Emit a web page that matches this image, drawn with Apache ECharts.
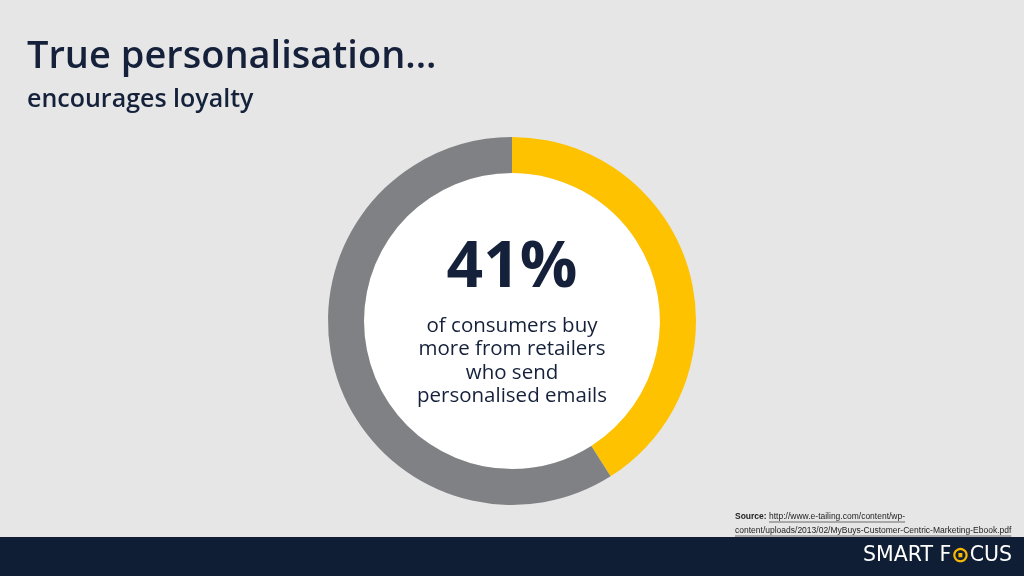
<!DOCTYPE html>
<html><head><meta charset="utf-8">
<script src="https://cdn.jsdelivr.net/npm/echarts@6/dist/echarts.min.js"></script>
<style>html,body{margin:0;padding:0;background:#e6e6e6;}#c{width:1024px;height:576px;}</style>
</head><body><div id="c"></div>
<script>
const categories = ['Buy more', 'Other'];
const values = [41, 59];
const bigLabel = '41%';
const caption = ['of consumers buy', 'more from retailers', 'who send', 'personalised emails'];
const titleText = 'True personalisation...';
const subtitleText = 'encourages loyalty';
const sourceLabel = 'Source: ';
const sourceLines = ['http://www.e-tailing.com/content/wp-', 'content/uploads/2013/02/MyBuys-Customer-Centric-Marketing-Ebook.pdf'];

const chart = echarts.init(document.getElementById('c'));
const navy = '#0f1e35';
const ink = '#15213a';

const ctx = document.createElement('canvas').getContext('2d');
function tw(text, font) { ctx.font = font; return ctx.measureText(text).width; }
const srcFont = '8.5px "Liberation Sans"';
const srcBold = 'bold 8.5px "Liberation Sans"';
const sx = 735, sy1 = 517, sy2 = 531;
const labW = tw(sourceLabel, srcBold);
const l1W = tw(sourceLines[0], srcFont);
const l2W = tw(sourceLines[1], srcFont);

chart.setOption({
  backgroundColor: '#e6e6e6',
  animation: false,
  graphic: [
    { type: 'rect', shape: { x: 0, y: 537, width: 1024, height: 39 }, style: { fill: navy }, z: 0 },
    { type: 'circle', shape: { cx: 512, cy: 321, r: 148 }, style: { fill: '#ffffff' }, z: 0 },
    { type: 'text', left: 27, top: 38, style: { text: titleText, font: '600 38px "Open Sans"', fill: ink } },
    { type: 'text', left: 27, top: 87, style: { text: subtitleText, font: '600 25px "Open Sans"', fill: ink } },
    { type: 'text', x: 512, y: 269, style: { text: bigLabel, font: 'bold 64px "Open Sans"', fill: ink, align: 'center', verticalAlign: 'middle' }, z: 10 },
    { type: 'text', x: 512, y: 361, style: { text: caption.join('\n'), font: '20.5px "Open Sans"', lineHeight: 23.5, fill: ink, align: 'center', verticalAlign: 'middle' }, z: 10 },
    { type: 'text', x: sx, y: sy1, style: { text: sourceLabel, font: srcBold, fill: '#222', verticalAlign: 'middle' } },
    { type: 'text', x: sx + labW, y: sy1, style: { text: sourceLines[0], font: srcFont, fill: '#222', verticalAlign: 'middle' } },
    { type: 'text', x: sx, y: sy2, style: { text: sourceLines[1], font: srcFont, fill: '#222', verticalAlign: 'middle' } },
    { type: 'line', shape: { x1: sx + labW, y1: sy1 + 5, x2: sx + labW + l1W, y2: sy1 + 5 }, style: { stroke: '#333', lineWidth: 0.7 } },
    { type: 'line', shape: { x1: sx, y1: sy2 + 5, x2: sx + l2W, y2: sy2 + 5 }, style: { stroke: '#333', lineWidth: 0.7 } },
    { type: 'text', x: 1012, y: 556, style: {
        text: '{w|SMART F}{y|⊙}{w|CUS}', align: 'right', verticalAlign: 'middle',
        rich: {
          w: { font: '20.5px "DejaVu Sans"', fill: '#ffffff' },
          y: { font: 'bold 22px "DejaVu Sans"', fill: '#f7b900' }
        }
      } }
  ],
  series: [{
    type: 'pie',
    center: [512, 321],
    radius: [148, 184],
    startAngle: 90,
    clockwise: true,
    silent: true,
    label: { show: false },
    labelLine: { show: false },
    itemStyle: { borderWidth: 0 },
    data: categories.map((c, i) => ({ name: c, value: values[i], itemStyle: { color: i === 0 ? '#fec200' : '#808184' } }))
  }]
});
</script></body></html>
